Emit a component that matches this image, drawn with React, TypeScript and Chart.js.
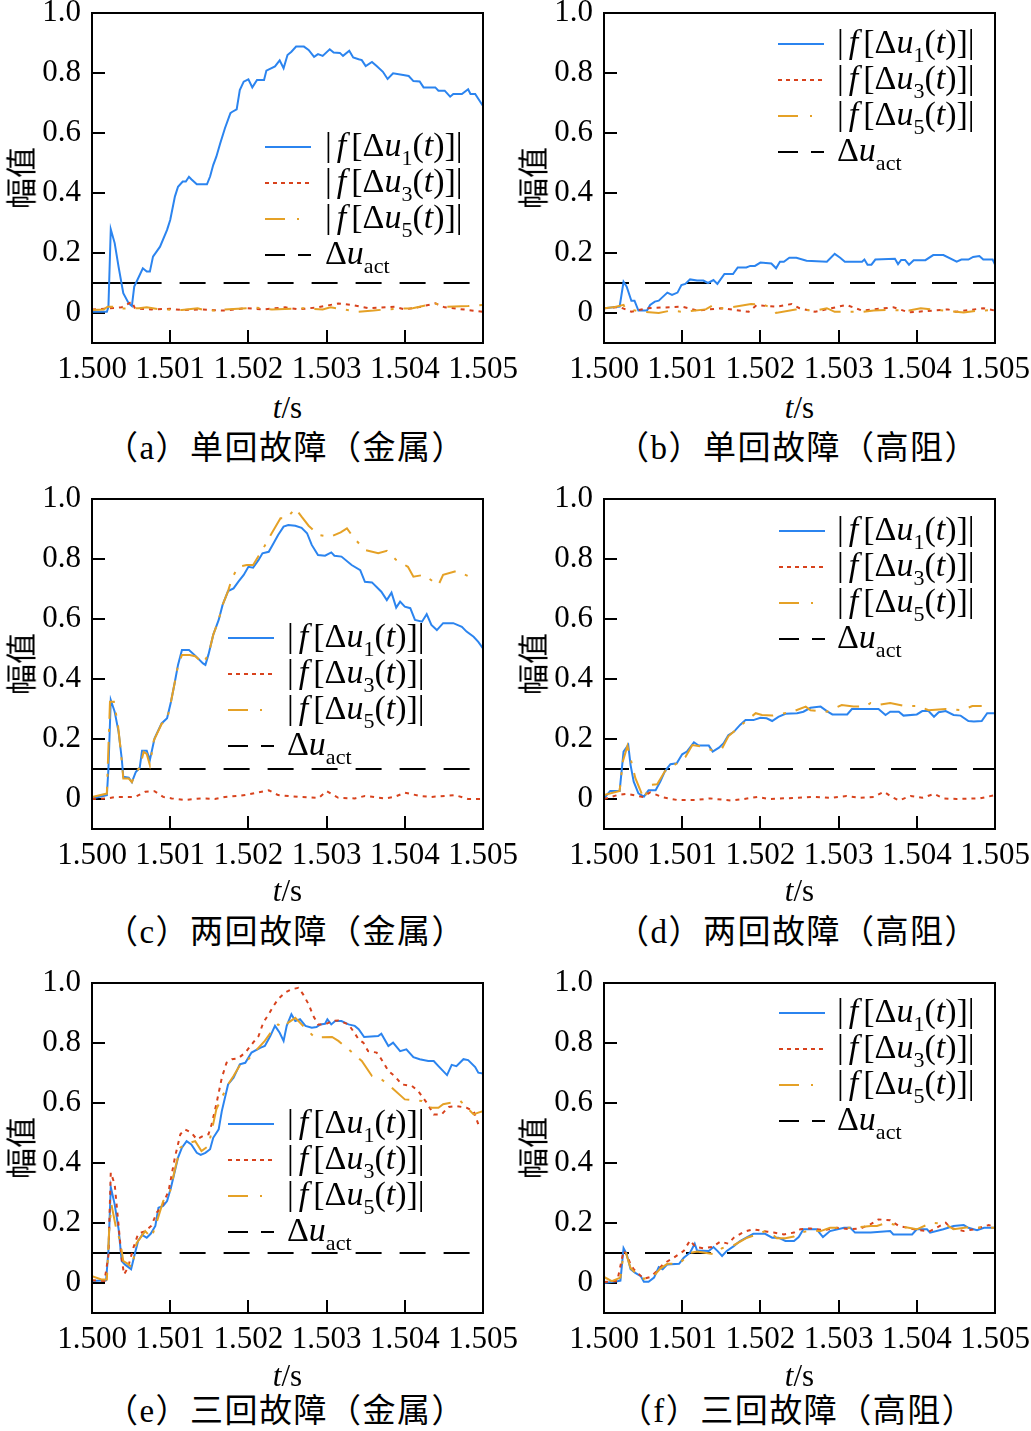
import React, { useEffect, useRef } from "react";
import { Chart, registerables } from "chart.js";

Chart.register(...registerables);

type Pt = [number, number];

// ---------- axes / text ----------
const X_TICKS = [1.5, 1.501, 1.502, 1.503, 1.504, 1.505];
const X_TICK_LABELS = ["1.500", "1.501", "1.502", "1.503", "1.504", "1.505"];
const Y_TICKS = [0, 0.2, 0.4, 0.6, 0.8, 1.0];
const Y_TICK_LABELS = ["0", "0.2", "0.4", "0.6", "0.8", "1.0"];
const X_MIN = 1.5;
const X_MAX = 1.505;
const Y_MIN = -0.1;
const Y_MAX = 1.0;
const THRESHOLD = 0.1;
const THRESHOLD_BREAK = 1.50089;
const Y_TITLE = "幅值";
const X_TITLE_ITALIC = "t";
const X_TITLE_REST = "/s";
const CAPTIONS = [
  "（a）单回故障（金属）",
  "（b）单回故障（高阻）",
  "（c）两回故障（金属）",
  "（d）两回故障（高阻）",
  "（e）三回故障（金属）",
  "（f）三回故障（高阻）",
];
const HARMONIC_SUBS = ["1", "3", "5"];
const ACT_SUB = "act";

// ---------- data: (a) ----------
const A_U1: Pt[] = [[1.5,0.004],[1.50019,0.004],[1.50021,0.02],[1.50024,0.279],[1.50029,0.233],[1.50034,0.154],[1.5004,0.066],[1.50047,0.032],[1.50051,0.023],[1.50054,0.088],[1.50058,0.11],[1.50065,0.149],[1.5007,0.138],[1.50074,0.138],[1.50078,0.188],[1.50087,0.221],[1.50096,0.277],[1.501,0.31],[1.50106,0.388],[1.5011,0.421],[1.50116,0.438],[1.5012,0.438],[1.50124,0.454],[1.50127,0.446],[1.50134,0.429],[1.50147,0.429],[1.50151,0.455],[1.50155,0.493],[1.50159,0.521],[1.50164,0.566],[1.5017,0.616],[1.50177,0.666],[1.50179,0.67],[1.50185,0.679],[1.50189,0.743],[1.50194,0.771],[1.502,0.779],[1.50205,0.752],[1.50211,0.777],[1.5022,0.777],[1.50223,0.808],[1.50234,0.822],[1.5024,0.842],[1.50245,0.816],[1.5025,0.86],[1.50255,0.871],[1.50261,0.888],[1.50271,0.888],[1.50277,0.877],[1.50284,0.854],[1.50289,0.863],[1.50295,0.857],[1.50304,0.879],[1.50309,0.868],[1.50317,0.867],[1.50321,0.857],[1.50329,0.874],[1.50334,0.852],[1.50341,0.846],[1.50345,0.843],[1.5035,0.823],[1.50358,0.837],[1.50364,0.823],[1.50372,0.804],[1.50378,0.78],[1.50385,0.799],[1.50398,0.793],[1.50405,0.79],[1.50411,0.773],[1.50419,0.772],[1.50424,0.752],[1.50439,0.752],[1.50443,0.741],[1.50451,0.741],[1.50458,0.721],[1.50462,0.73],[1.50473,0.73],[1.50481,0.746],[1.50484,0.73],[1.5049,0.73],[1.505,0.69]];
const A_U3: Pt[] = [[1.5,0.012],[1.5002,0.015],[1.50038,0.019],[1.50051,0.038],[1.50055,0.015],[1.50076,0.012],[1.501,0.014],[1.50115,0.01],[1.5014,0.012],[1.5017,0.008],[1.50196,0.016],[1.5022,0.012],[1.50247,0.019],[1.50264,0.012],[1.50289,0.019],[1.50315,0.032],[1.50332,0.027],[1.50353,0.016],[1.50387,0.021],[1.504,0.012],[1.50417,0.019],[1.50439,0.032],[1.50451,0.019],[1.50481,0.01],[1.505,0.004]];
const A_U5: Pt[] = [[1.5,0.01],[1.50015,0.012],[1.5002,0.021],[1.50035,0.021],[1.50038,0.015],[1.5006,0.016],[1.5007,0.019],[1.50087,0.012],[1.50115,0.01],[1.50135,0.016],[1.50145,0.008],[1.50165,0.008],[1.5017,0.012],[1.502,0.016],[1.50205,0.019],[1.5023,0.012],[1.5027,0.016],[1.50295,0.012],[1.50305,0.019],[1.5034,0.004],[1.5036,0.008],[1.50375,0.012],[1.5041,0.016],[1.50439,0.032],[1.5045,0.02],[1.50481,0.023],[1.505,0.027]];

// ---------- data: (b) ----------
const B_U1: Pt[] = [[1.5,0.016],[1.5002,0.021],[1.50025,0.104],[1.50029,0.088],[1.50035,0.041],[1.50039,0.041],[1.50044,0.008],[1.50055,0.008],[1.50059,0.027],[1.50065,0.038],[1.5007,0.041],[1.50081,0.068],[1.50087,0.06],[1.50094,0.068],[1.50099,0.093],[1.50104,0.097],[1.5011,0.112],[1.50119,0.108],[1.50127,0.108],[1.50133,0.1],[1.5014,0.11],[1.50145,0.097],[1.50154,0.13],[1.50165,0.13],[1.50171,0.152],[1.50182,0.152],[1.50187,0.157],[1.50193,0.157],[1.502,0.168],[1.50214,0.165],[1.5022,0.149],[1.50225,0.171],[1.5023,0.171],[1.50237,0.184],[1.50246,0.184],[1.50259,0.174],[1.50285,0.171],[1.50295,0.197],[1.50302,0.184],[1.50308,0.171],[1.5033,0.171],[1.50333,0.178],[1.50337,0.161],[1.50342,0.161],[1.50347,0.178],[1.50372,0.181],[1.50376,0.163],[1.5038,0.177],[1.50385,0.177],[1.5039,0.161],[1.50396,0.176],[1.50411,0.176],[1.50421,0.193],[1.50434,0.193],[1.50451,0.171],[1.50457,0.178],[1.50466,0.178],[1.50472,0.187],[1.5048,0.19],[1.50485,0.178],[1.50497,0.178],[1.505,0.161]];
const B_U3: Pt[] = [[1.5,0.016],[1.5002,0.02],[1.50035,0.004],[1.50055,0.016],[1.501,0.021],[1.5012,0.008],[1.5015,0.016],[1.50185,0.004],[1.50195,0.026],[1.5022,0.021],[1.5024,0.03],[1.5025,0.016],[1.5027,0.004],[1.5031,0.027],[1.5033,0.008],[1.5037,0.019],[1.5039,0.002],[1.5044,0.012],[1.5045,0.004],[1.50485,0.016],[1.505,0.008]];
const B_U5: Pt[] = [[1.5,0.016],[1.50014,0.02],[1.50025,0.027],[1.50027,0.016],[1.50045,0.005],[1.5007,0.0],[1.50085,0.008],[1.501,0.004],[1.5013,0.012],[1.5014,0.027],[1.50145,0.016],[1.50155,0.016],[1.50188,0.03],[1.50205,0.027],[1.50215,0.016],[1.5022,0.0],[1.50245,0.012],[1.5027,0.008],[1.50285,0.016],[1.50295,0.004],[1.5033,0.004],[1.50345,0.008],[1.5036,0.01],[1.5039,0.008],[1.50405,0.016],[1.5042,0.012],[1.5046,0.002],[1.5048,0.008],[1.505,0.01]];

// ---------- data: (c) ----------
const C_U1: Pt[] = [[1.5,0.002],[1.50019,0.013],[1.50021,0.1],[1.50024,0.33],[1.50029,0.291],[1.50034,0.224],[1.50038,0.135],[1.5004,0.074],[1.50047,0.071],[1.50051,0.056],[1.50056,0.09],[1.50061,0.104],[1.50064,0.161],[1.5007,0.161],[1.50074,0.13],[1.5008,0.202],[1.50089,0.252],[1.50096,0.269],[1.50101,0.324],[1.50106,0.391],[1.5011,0.447],[1.50115,0.497],[1.50124,0.497],[1.50132,0.478],[1.50142,0.452],[1.50145,0.447],[1.50149,0.482],[1.50155,0.547],[1.50162,0.597],[1.50167,0.647],[1.50174,0.693],[1.50181,0.702],[1.50187,0.724],[1.50194,0.747],[1.502,0.774],[1.50206,0.771],[1.50213,0.797],[1.50218,0.819],[1.50226,0.824],[1.50232,0.852],[1.50238,0.88],[1.50245,0.908],[1.50251,0.913],[1.5026,0.911],[1.50268,0.904],[1.50275,0.886],[1.50281,0.847],[1.50289,0.813],[1.50298,0.811],[1.50306,0.822],[1.5031,0.811],[1.50319,0.808],[1.50332,0.78],[1.50343,0.763],[1.50349,0.724],[1.50358,0.722],[1.5037,0.691],[1.50377,0.663],[1.50383,0.688],[1.50389,0.638],[1.50394,0.658],[1.504,0.641],[1.50407,0.636],[1.50413,0.597],[1.50422,0.591],[1.50428,0.616],[1.50434,0.58],[1.50441,0.563],[1.50449,0.586],[1.50462,0.586],[1.50473,0.574],[1.50479,0.558],[1.50488,0.541],[1.50494,0.524],[1.505,0.502]];
const C_U3: Pt[] = [[1.5,0.0],[1.5002,0.002],[1.5003,0.007],[1.50055,0.007],[1.50068,0.024],[1.5008,0.026],[1.50091,0.007],[1.50102,0.002],[1.50119,-0.003],[1.5014,0.002],[1.50157,0.0],[1.5017,0.007],[1.50196,0.013],[1.50226,0.029],[1.50238,0.013],[1.50264,0.007],[1.5029,0.004],[1.503,0.026],[1.50315,0.004],[1.50336,0.002],[1.50349,0.01],[1.50375,0.002],[1.50387,0.007],[1.504,0.021],[1.5042,0.01],[1.50434,0.007],[1.50464,0.013],[1.50481,0.0],[1.505,0.0]];
const C_U5: Pt[] = [[1.5,0.007],[1.50019,0.018],[1.50023,0.324],[1.50028,0.324],[1.50033,0.25],[1.50037,0.157],[1.5004,0.068],[1.50047,0.068],[1.50051,0.056],[1.50056,0.09],[1.50061,0.104],[1.50066,0.157],[1.5007,0.15],[1.50074,0.113],[1.50079,0.195],[1.50089,0.25],[1.50096,0.265],[1.50101,0.324],[1.50106,0.391],[1.5011,0.445],[1.50115,0.48],[1.50125,0.48],[1.50132,0.476],[1.50142,0.452],[1.50149,0.482],[1.50155,0.547],[1.50162,0.597],[1.50167,0.647],[1.50174,0.693],[1.50179,0.736],[1.50187,0.774],[1.50198,0.78],[1.50206,0.78],[1.50213,0.81],[1.50218,0.83],[1.50226,0.869],[1.50241,0.936],[1.50249,0.936],[1.5026,0.969],[1.50268,0.941],[1.50277,0.911],[1.5029,0.88],[1.50305,0.874],[1.50318,0.889],[1.50326,0.902],[1.50335,0.87],[1.50349,0.83],[1.50366,0.819],[1.50377,0.827],[1.50389,0.797],[1.50404,0.774],[1.50411,0.741],[1.50424,0.747],[1.50443,0.713],[1.50449,0.747],[1.50466,0.76],[1.50483,0.741]];

// ---------- data: (d) ----------
const D_U1: Pt[] = [[1.5,0.002],[1.50008,0.027],[1.5002,0.027],[1.50025,0.158],[1.50031,0.18],[1.50034,0.113],[1.50038,0.058],[1.50044,0.019],[1.50051,0.008],[1.50057,0.029],[1.50066,0.029],[1.50072,0.058],[1.50078,0.093],[1.50085,0.116],[1.50093,0.119],[1.501,0.149],[1.50106,0.158],[1.50115,0.189],[1.50121,0.178],[1.50134,0.178],[1.50139,0.158],[1.50147,0.171],[1.50153,0.186],[1.50159,0.213],[1.50166,0.224],[1.50174,0.247],[1.50181,0.263],[1.50191,0.263],[1.502,0.271],[1.50208,0.269],[1.50215,0.26],[1.50223,0.274],[1.50232,0.284],[1.50247,0.286],[1.50255,0.291],[1.50264,0.304],[1.50277,0.308],[1.50285,0.293],[1.50292,0.282],[1.50311,0.282],[1.50317,0.3],[1.50351,0.3],[1.5036,0.28],[1.50366,0.291],[1.50377,0.291],[1.50383,0.278],[1.504,0.282],[1.50407,0.293],[1.50415,0.293],[1.50422,0.274],[1.50428,0.289],[1.50437,0.293],[1.50447,0.28],[1.50456,0.278],[1.50466,0.26],[1.50473,0.258],[1.50483,0.26],[1.5049,0.286],[1.505,0.286]];
const D_U3: Pt[] = [[1.5,0.0],[1.50017,0.013],[1.50029,0.017],[1.5005,0.007],[1.50059,0.022],[1.50076,0.005],[1.50093,-0.003],[1.50119,-0.003],[1.50136,0.002],[1.50162,-0.005],[1.50179,0.0],[1.50196,0.007],[1.5021,0.0],[1.50247,0.004],[1.50268,0.007],[1.5029,0.004],[1.5031,0.01],[1.50328,0.004],[1.50345,0.007],[1.50358,0.024],[1.50368,0.007],[1.50377,-0.005],[1.50392,0.01],[1.50407,0.004],[1.50422,0.017],[1.50434,0.002],[1.50451,0.0],[1.50481,0.002],[1.505,0.013]];
const D_U5: Pt[] = [[1.5,0.013],[1.5002,0.027],[1.50024,0.124],[1.5003,0.177],[1.50035,0.124],[1.5004,0.07],[1.50051,0.0],[1.50059,0.047],[1.50068,0.049],[1.50078,0.093],[1.50095,0.122],[1.50104,0.14],[1.50113,0.18],[1.50125,0.175],[1.50138,0.163],[1.50151,0.169],[1.50159,0.209],[1.50178,0.252],[1.50194,0.286],[1.50202,0.28],[1.50215,0.278],[1.5024,0.29],[1.50258,0.308],[1.50264,0.296],[1.50285,0.291],[1.50304,0.313],[1.50319,0.308],[1.50334,0.308],[1.50341,0.32],[1.5035,0.313],[1.50366,0.32],[1.50385,0.31],[1.50402,0.31],[1.50415,0.296],[1.50437,0.3],[1.50458,0.296],[1.50471,0.31],[1.50483,0.31]];

// ---------- data: (e) ----------
const E_U1: Pt[] = [[1.5,0.007],[1.50018,0.009],[1.50021,0.107],[1.50024,0.32],[1.50029,0.262],[1.50034,0.18],[1.50038,0.073],[1.50042,0.062],[1.5005,0.046],[1.50055,0.1],[1.50059,0.14],[1.50064,0.16],[1.5007,0.151],[1.50075,0.164],[1.50081,0.19],[1.50085,0.251],[1.50091,0.257],[1.50096,0.273],[1.50101,0.318],[1.50106,0.373],[1.5011,0.418],[1.50115,0.451],[1.50121,0.473],[1.50127,0.462],[1.50134,0.434],[1.50139,0.427],[1.50145,0.434],[1.50151,0.446],[1.50155,0.484],[1.50162,0.512],[1.50166,0.573],[1.50174,0.662],[1.50181,0.684],[1.50189,0.729],[1.50196,0.734],[1.50204,0.768],[1.50215,0.784],[1.50221,0.79],[1.50228,0.823],[1.50234,0.857],[1.5024,0.834],[1.50245,0.807],[1.50249,0.857],[1.50255,0.896],[1.5026,0.873],[1.50266,0.879],[1.50273,0.857],[1.50281,0.851],[1.50287,0.853],[1.50292,0.862],[1.50298,0.864],[1.50301,0.879],[1.50306,0.862],[1.50311,0.873],[1.50319,0.873],[1.50328,0.862],[1.50336,0.857],[1.50341,0.846],[1.50348,0.82],[1.50366,0.823],[1.5037,0.831],[1.50379,0.79],[1.50385,0.801],[1.50394,0.773],[1.50402,0.779],[1.50411,0.753],[1.50419,0.746],[1.5043,0.74],[1.50437,0.74],[1.50443,0.723],[1.50454,0.693],[1.5046,0.727],[1.50466,0.723],[1.50475,0.746],[1.50481,0.743],[1.5049,0.72],[1.50494,0.701],[1.505,0.698]];
const E_U3: Pt[] = [[1.5,0.009],[1.50016,0.007],[1.50021,0.091],[1.50024,0.368],[1.50029,0.329],[1.50034,0.191],[1.50038,0.08],[1.50041,0.029],[1.50046,0.051],[1.50053,0.118],[1.50059,0.164],[1.50068,0.173],[1.50076,0.191],[1.50083,0.236],[1.50089,0.253],[1.50098,0.307],[1.50106,0.418],[1.50113,0.496],[1.50119,0.512],[1.50127,0.501],[1.50134,0.479],[1.50142,0.49],[1.50149,0.496],[1.50153,0.529],[1.50159,0.596],[1.50166,0.684],[1.50172,0.734],[1.50179,0.746],[1.50187,0.749],[1.50196,0.768],[1.50206,0.801],[1.50213,0.823],[1.50219,0.868],[1.50226,0.896],[1.50232,0.923],[1.50238,0.946],[1.50247,0.968],[1.50255,0.979],[1.50264,0.984],[1.5027,0.962],[1.50277,0.929],[1.50283,0.89],[1.50289,0.862],[1.50298,0.862],[1.50307,0.873],[1.50315,0.875],[1.50328,0.862],[1.50334,0.84],[1.50341,0.812],[1.50347,0.801],[1.50353,0.773],[1.50364,0.768],[1.5037,0.746],[1.50379,0.707],[1.50388,0.687],[1.50396,0.662],[1.50409,0.657],[1.50417,0.64],[1.50428,0.601],[1.50437,0.562],[1.50447,0.562],[1.50456,0.587],[1.50466,0.59],[1.50479,0.584],[1.50488,0.573],[1.50494,0.529],[1.505,0.52]];
const E_U5: Pt[] = [[1.5,0.023],[1.50012,0.012],[1.50019,0.012],[1.50022,0.18],[1.50025,0.26],[1.50031,0.18],[1.50036,0.14],[1.5004,0.073],[1.50047,0.062],[1.50051,0.051],[1.50057,0.133],[1.50068,0.173],[1.50076,0.151],[1.50083,0.205],[1.50091,0.273],[1.501,0.307],[1.50106,0.379],[1.50113,0.451],[1.50119,0.462],[1.50132,0.473],[1.5014,0.44],[1.50149,0.457],[1.50159,0.579],[1.50166,0.618],[1.50174,0.662],[1.50181,0.69],[1.50191,0.734],[1.502,0.746],[1.50211,0.779],[1.50221,0.807],[1.5023,0.84],[1.50238,0.862],[1.50245,0.851],[1.50251,0.868],[1.5026,0.884],[1.50268,0.862],[1.50285,0.818],[1.50307,0.82],[1.50315,0.807],[1.50328,0.779],[1.50345,0.74],[1.50358,0.69],[1.5037,0.679],[1.50381,0.657],[1.504,0.612],[1.50422,0.607],[1.50434,0.584],[1.50443,0.584],[1.50449,0.596],[1.50471,0.607],[1.50488,0.562],[1.50494,0.568],[1.505,0.573]];

// ---------- data: (f) ----------
const F_U1: Pt[] = [[1.5,0.0],[1.50017,0.006],[1.50021,0.008],[1.50025,0.116],[1.50029,0.096],[1.50034,0.046],[1.5004,0.034],[1.50047,0.023],[1.50051,0.004],[1.50057,0.004],[1.50064,0.018],[1.5007,0.053],[1.50075,0.046],[1.50081,0.062],[1.50096,0.064],[1.50102,0.084],[1.5011,0.101],[1.50116,0.131],[1.50119,0.108],[1.50134,0.107],[1.5014,0.12],[1.50145,0.107],[1.50151,0.09],[1.50157,0.107],[1.50166,0.123],[1.50174,0.14],[1.50191,0.164],[1.50206,0.164],[1.50215,0.151],[1.50223,0.151],[1.50232,0.14],[1.50243,0.14],[1.50249,0.153],[1.50255,0.179],[1.50272,0.179],[1.5028,0.153],[1.50289,0.173],[1.50307,0.184],[1.50315,0.184],[1.50321,0.168],[1.50341,0.168],[1.50366,0.173],[1.5037,0.162],[1.50394,0.162],[1.504,0.179],[1.50413,0.179],[1.50417,0.168],[1.50434,0.179],[1.50447,0.19],[1.5046,0.193],[1.50466,0.184],[1.50477,0.176],[1.50486,0.184],[1.505,0.184]];
const F_U3: Pt[] = [[1.5,0.003],[1.50017,0.007],[1.50025,0.107],[1.50029,0.096],[1.50034,0.062],[1.50038,0.046],[1.50051,0.014],[1.50059,0.02],[1.50068,0.04],[1.50076,0.064],[1.50089,0.084],[1.50102,0.107],[1.5011,0.142],[1.50117,0.12],[1.50127,0.116],[1.50138,0.12],[1.50149,0.138],[1.50159,0.131],[1.50166,0.151],[1.50179,0.171],[1.50191,0.179],[1.50209,0.171],[1.50217,0.168],[1.5023,0.162],[1.50243,0.168],[1.50251,0.179],[1.50264,0.182],[1.50281,0.176],[1.50298,0.184],[1.50315,0.179],[1.50328,0.182],[1.50341,0.196],[1.50351,0.212],[1.50366,0.209],[1.50377,0.19],[1.50388,0.184],[1.50402,0.176],[1.50417,0.173],[1.50437,0.201],[1.50443,0.184],[1.5046,0.173],[1.50473,0.179],[1.50492,0.193],[1.505,0.187]];
const F_U5: Pt[] = [[1.5,0.02],[1.5001,0.006],[1.50021,0.018],[1.50025,0.1],[1.50028,0.1],[1.50034,0.05],[1.50042,0.029],[1.50051,0.014],[1.50064,0.024],[1.50072,0.048],[1.50081,0.064],[1.50096,0.064],[1.50104,0.084],[1.5011,0.1],[1.50119,0.105],[1.5014,0.096],[1.50151,0.116],[1.50166,0.126],[1.50183,0.151],[1.50196,0.162],[1.50206,0.173],[1.50212,0.17],[1.50221,0.149],[1.50232,0.149],[1.50243,0.155],[1.50251,0.168],[1.50264,0.175],[1.50277,0.173],[1.50289,0.184],[1.50315,0.184],[1.50341,0.19],[1.50349,0.19],[1.50362,0.201],[1.50377,0.19],[1.504,0.179],[1.50419,0.201],[1.50437,0.196],[1.50447,0.179],[1.50469,0.187],[1.50486,0.184],[1.505,0.184]];

// ---------- styles / layout ----------
const BLUE = "#2b84ef";
const RED = "#d8421c";
const ORANGE = "#e5a126";
const BLACK = "#000000";
const SERIF = '"Liberation Serif", "Times New Roman", serif';
const CJK = '"Noto Sans CJK SC", "Noto Sans CJK JP", sans-serif';

const CANVAS_W = 519;
const CANVAS_H = 405;
const PAD_TOP = 30;
const Y_AXIS_W = 60;
const PLOT_LEFT = 92;
const PLOT_W = 391;
const PLOT_H = 330;
const X_AXIS_H = CANVAS_H - PAD_TOP - PLOT_H;
const COL_LEFT = [0, 512];
const ROW_TOP = [13, 499, 983];
const TITLE_OFF = [64, 61, 62];
const CAPTION_OFF = [105, 103, 98];

type LegendPos = { sx: number; sy: number; tx: number };
type PanelCfg = {
  u1: Pt[]; u3: Pt[]; u5: Pt[];
  caption: string; col: number; row: number;
  legend: LegendPos; longFirstDash: boolean;
};

const PANELS: PanelCfg[] = [
  { u1: A_U1, u3: A_U3, u5: A_U5, caption: CAPTIONS[0], col: 0, row: 0, legend: { sx: 173, sy: 134, tx: 233 }, longFirstDash: true },
  { u1: B_U1, u3: B_U3, u5: B_U5, caption: CAPTIONS[1], col: 1, row: 0, legend: { sx: 174, sy: 31, tx: 233 }, longFirstDash: false },
  { u1: C_U1, u3: C_U3, u5: C_U5, caption: CAPTIONS[2], col: 0, row: 1, legend: { sx: 136, sy: 139, tx: 195 }, longFirstDash: true },
  { u1: D_U1, u3: D_U3, u5: D_U5, caption: CAPTIONS[3], col: 1, row: 1, legend: { sx: 175, sy: 32, tx: 233 }, longFirstDash: false },
  { u1: E_U1, u3: E_U3, u5: E_U5, caption: CAPTIONS[4], col: 0, row: 2, legend: { sx: 136, sy: 141, tx: 195 }, longFirstDash: true },
  { u1: F_U1, u3: F_U3, u5: F_U5, caption: CAPTIONS[5], col: 1, row: 2, legend: { sx: 175, sy: 30, tx: 233 }, longFirstDash: false },
];

type Part = { t?: string; it?: boolean; sub?: boolean; gap?: number };

function harmonicParts(k: string): Part[] {
  return [
    { t: "|" }, { gap: 5 }, { t: "f", it: true }, { gap: 5 },
    { t: "[Δ" }, { t: "u", it: true }, { t: k, sub: true },
    { t: "(" }, { t: "t", it: true }, { t: ")]|" },
  ];
}
const ACT_PARTS: Part[] = [{ t: "Δ" }, { t: "u", it: true }, { t: ACT_SUB, sub: true }];

function drawParts(ctx: CanvasRenderingContext2D, x: number, y: number, parts: Part[]) {
  const size = 34;
  const subSize = 22;
  ctx.fillStyle = "#000";
  ctx.textBaseline = "alphabetic";
  ctx.textAlign = "left";
  const base = y + 9;
  for (const p of parts) {
    if (p.gap) { x += p.gap; continue; }
    const fs = p.sub ? subSize : size;
    ctx.font = `${p.it ? "italic " : ""}${fs}px ${SERIF}`;
    ctx.fillText(p.t!, x, p.sub ? base + 9 : base);
    x += ctx.measureText(p.t!).width;
  }
}

function makeLegendPlugin(pos: LegendPos) {
  return {
    id: "richLegend",
    afterDraw(chart: any) {
      const { ctx, chartArea: a } = chart;
      const items = [
        { color: BLUE, dash: [] as number[], parts: harmonicParts(HARMONIC_SUBS[0]) },
        { color: RED, dash: [4, 4], parts: harmonicParts(HARMONIC_SUBS[1]) },
        { color: ORANGE, dash: [20, 12, 2, 30], parts: harmonicParts(HARMONIC_SUBS[2]) },
        { color: BLACK, dash: [20, 13], parts: ACT_PARTS },
      ];
      ctx.save();
      items.forEach((it, i) => {
        const y = a.top + pos.sy + i * 36;
        const x0 = a.left + pos.sx;
        ctx.beginPath();
        ctx.setLineDash(it.dash);
        ctx.strokeStyle = it.color;
        ctx.lineWidth = 2;
        ctx.moveTo(x0, y);
        ctx.lineTo(x0 + 46, y);
        ctx.stroke();
        ctx.setLineDash([]);
        drawParts(ctx, a.left + pos.tx, y, it.parts);
      });
      ctx.restore();
    },
  };
}

const framePlugin = {
  id: "frame",
  afterDraw(chart: any) {
    const { ctx, chartArea: a } = chart;
    ctx.save();
    ctx.strokeStyle = "#000";
    ctx.lineWidth = 2;
    ctx.setLineDash([]);
    ctx.strokeRect(a.left, a.top, a.right - a.left, a.bottom - a.top);
    ctx.restore();
  },
};

const toXY = (pts: Pt[]) => pts.map(([x, y]) => ({ x, y }));

function Panel({ cfg }: { cfg: PanelCfg }) {
  const ref = useRef<HTMLCanvasElement>(null);
  useEffect(() => {
    const thresholdData: Pt[] = cfg.longFirstDash
      ? [[X_MIN, THRESHOLD], [THRESHOLD_BREAK, THRESHOLD], [X_MAX, THRESHOLD]]
      : [[X_MIN, THRESHOLD], [X_MAX, THRESHOLD]];
    const line = (data: Pt[], color: string, dash: number[], order: number) => ({
      data: toXY(data),
      borderColor: color,
      backgroundColor: color,
      borderWidth: 2,
      borderDash: dash,
      pointRadius: 0,
      pointHoverRadius: 0,
      fill: false,
      tension: 0,
      order,
    });
    const thresholdDs: any = {
      ...line(thresholdData, BLACK, cfg.longFirstDash ? [26, 18] : [25, 16], 3),
    };
    if (cfg.longFirstDash) {
      thresholdDs.segment = {
        borderDash: (c: any) => (c.p0DataIndex === 0 ? [] : [26, 18]),
        borderDashOffset: (c: any) => (c.p0DataIndex === 0 ? 0 : 26),
      };
    }
    const chart = new Chart(ref.current!, {
      type: "line",
      data: {
        datasets: [
          line(cfg.u5, ORANGE, [22, 10, 3, 10], 0),
          line(cfg.u3, RED, [4, 5], 1),
          line(cfg.u1, BLUE, [], 2),
          thresholdDs,
        ],
      },
      options: {
        responsive: false,
        animation: false,
        events: [],
        layout: {
          padding: { top: PAD_TOP, left: PLOT_LEFT - Y_AXIS_W, right: CANVAS_W - PLOT_LEFT - PLOT_W, bottom: 0 },
        },
        plugins: { legend: { display: false }, tooltip: { enabled: false }, title: { display: false } },
        scales: {
          x: {
            type: "linear",
            min: X_MIN,
            max: X_MAX,
            afterBuildTicks: (s: any) => { s.ticks = X_TICKS.map((value) => ({ value })); },
            afterFit: (s: any) => { s.height = X_AXIS_H; s.paddingLeft = 0; s.paddingRight = 0; },
            ticks: {
              autoSkip: false,
              maxRotation: 0,
              minRotation: 0,
              padding: 21,
              color: "#000",
              font: { family: SERIF, size: 31 },
              callback: (_v: any, i: number) => X_TICK_LABELS[i],
            },
            grid: { drawOnChartArea: false, drawTicks: true, tickLength: -13, color: "#000", tickColor: "#000", tickWidth: 2, lineWidth: 2 },
            border: { display: true, color: "#000", width: 2 },
          },
          y: {
            type: "linear",
            min: Y_MIN,
            max: Y_MAX,
            afterBuildTicks: (s: any) => { s.ticks = Y_TICKS.map((value) => ({ value })); },
            afterFit: (s: any) => { s.width = Y_AXIS_W; s.paddingTop = 0; s.paddingBottom = 0; },
            ticks: {
              autoSkip: false,
              padding: 24,
              color: "#000",
              font: { family: SERIF, size: 31 },
              callback: (_v: any, i: number) => Y_TICK_LABELS[i],
            },
            grid: { drawOnChartArea: false, drawTicks: true, tickLength: -13, color: "#000", tickColor: "#000", tickWidth: 2, lineWidth: 2 },
            border: { display: true, color: "#000", width: 2 },
          },
        },
      } as any,
      plugins: [framePlugin, makeLegendPlugin(cfg.legend)],
    });
    return () => chart.destroy();
  }, [cfg]);

  const colLeft = COL_LEFT[cfg.col];
  const plotTop = ROW_TOP[cfg.row];
  const plotBottom = plotTop + PLOT_H;
  const plotCx = colLeft + PLOT_LEFT + PLOT_W / 2;

  return (
    <>
      <canvas
        ref={ref}
        width={CANVAS_W}
        height={CANVAS_H}
        style={{ position: "absolute", left: colLeft, top: plotTop - PAD_TOP, width: CANVAS_W, height: CANVAS_H }}
      />
      <div
        style={{
          position: "absolute", left: colLeft + 19, top: plotTop + PLOT_H / 2,
          transform: "translate(-50%, -50%) rotate(-90deg)",
          fontFamily: CJK, fontSize: 31, lineHeight: 1, whiteSpace: "nowrap", color: "#000",
        }}
      >
        {Y_TITLE}
      </div>
      <div
        style={{
          position: "absolute", left: plotCx, top: plotBottom + TITLE_OFF[cfg.row],
          transform: "translate(-50%, -50%)",
          fontFamily: SERIF, fontSize: 31, lineHeight: 1, whiteSpace: "nowrap", color: "#000",
        }}
      >
        <i>{X_TITLE_ITALIC}</i>{X_TITLE_REST}
      </div>
      <div
        style={{
          position: "absolute", left: plotCx - 2, top: plotBottom + CAPTION_OFF[cfg.row],
          transform: "translate(-50%, -50%)",
          fontFamily: `"Liberation Serif", ${CJK}`, fontSize: 33, letterSpacing: "1.5px", lineHeight: 1, whiteSpace: "nowrap", color: "#000",
          textSpacingTrim: "space-all",
        } as any}
      >
        {cfg.caption}
      </div>
    </>
  );
}

export default function App() {
  return (
    <div style={{ position: "absolute", left: 0, top: 0, width: 1031, height: 1431, background: "#fff", overflow: "hidden" }}>
      {PANELS.map((p, i) => (
        <Panel key={i} cfg={p} />
      ))}
    </div>
  );
}
